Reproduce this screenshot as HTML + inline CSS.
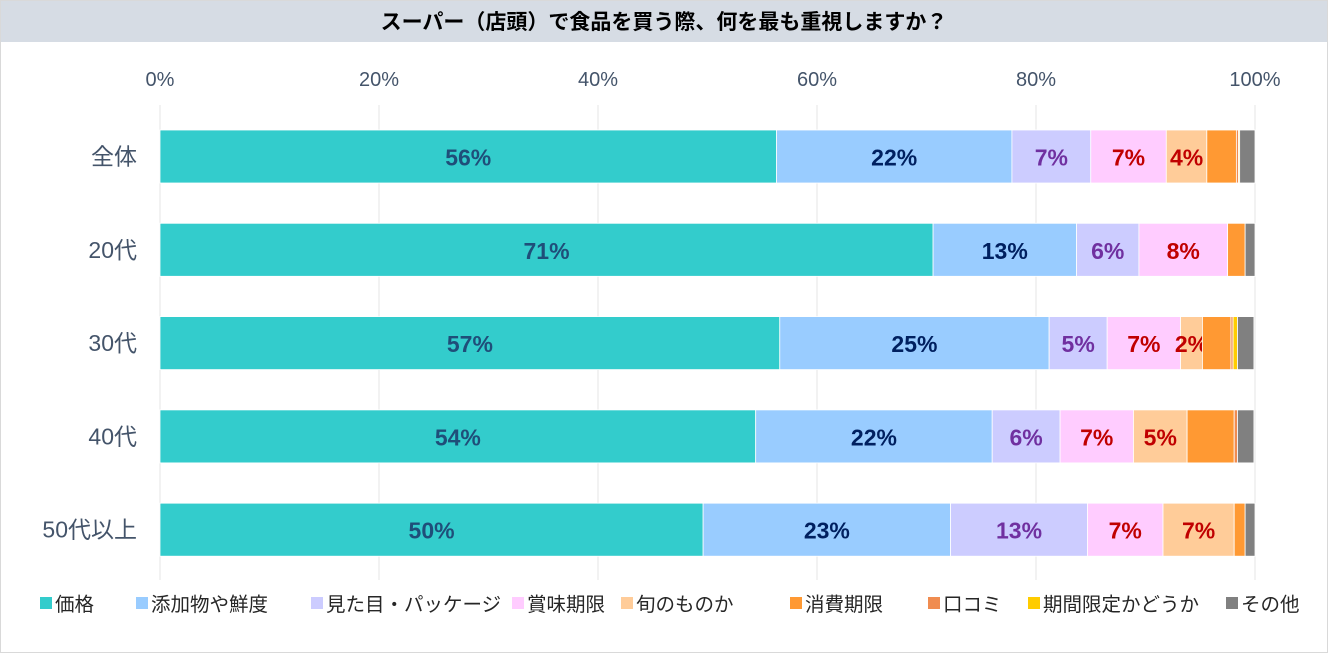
<!DOCTYPE html>
<html><head><meta charset="utf-8"><style>
body{margin:0;background:#fff;font-family:"Liberation Sans","Noto Sans CJK JP",sans-serif;}
#wrap{position:relative;width:1328px;height:667px;overflow:hidden;}
</style></head><body>
<div id="wrap">
<svg id="chart" width="1328" height="667"></svg>
</div>
<script>
const categories=["全体","20代","30代","40代","50代以上"];
const seriesNames=["価格","添加物や鮮度","見た目・パッケージ","賞味期限","旬のものか","消費期限","口コミ","期間限定かどうか","その他"];
const s0=[56.3,70.6,56.6,54.4,49.6];
const s1=[21.5,13.1,24.6,21.6,22.6];
const s2=[7.2,5.7,5.3,6.2,12.5];
const s3=[6.9,8.1,6.7,6.7,6.9];
const s4=[3.7,0,2.0,4.9,6.5];
const s5=[2.7,1.6,2.6,4.3,1.0];
const s6=[0.2,0,0.2,0.3,0];
const s7=[0.1,0,0.4,0,0];
const s8=[1.4,0.9,1.5,1.5,0.9];
const ticks=[0,20,40,60,80,100];
const series=[s0,s1,s2,s3,s4,s5,s6,s7,s8];
const colors=["#33cccc","#99ccff","#ccccff","#ffccff","#ffcc99","#ff9933","#f08c50","#ffcc00","#808080"];
const labelColors=["#1f4e79","#002060","#7030a0","#c00000","#c00000"];
const NS="http://www.w3.org/2000/svg";
const svg=document.getElementById('chart');
const x0=160,x1=1255;
const xs=v=>x0+(x1-x0)*v/100;
const barH=53;
const yc=i=>130+i*93.3;
function mk(t,a){const e=document.createElementNS(NS,t);for(const k in a)e.setAttribute(k,a[k]);svg.appendChild(e);return e;}
let e=mk('rect',{x:0.5,y:0.5,width:1327,height:652,fill:'#fff',stroke:'#d9d9d9'});

e=mk('rect',{x:1,y:1,width:1326,height:41,fill:'#d6dce4'});

e=mk('text',{x:664,y:29,'text-anchor':'middle','font-size':21,'font-weight':'bold',fill:'#000'});
e.textContent='スーパー（店頭）で食品を買う際、何を最も重視しますか？';

ticks.forEach(t=>{
 let g=mk('line',{x1:xs(t),x2:xs(t),y1:105,y2:580,stroke:'#e6e6e6','stroke-width':1});
 
 let l=mk('text',{x:xs(t),y:86,'text-anchor':'middle','font-size':20,fill:'#44546a'});
 l.textContent=t+'%';
 
});
categories.forEach((c,i)=>{
 const y=yc(i);
 let l=mk('text',{x:137,y:y+barH/2+8,'text-anchor':'end','font-size':23,fill:'#44546a'});
 l.textContent=c;
 
 let acc=0;
 series.forEach((s,j)=>{
  const v=s[i];if(v<=0)return;
  const r=mk('rect',{x:xs(acc),y:y,width:xs(acc+v)-xs(acc),height:barH,fill:colors[j],stroke:'#fff','stroke-width':0.8});
  
  if(j<5&&v>=1.5){
   const t=mk('text',{x:(xs(acc)+xs(acc+v))/2,y:y+barH/2+9,'text-anchor':'middle','font-size':23,'font-weight':'bold',fill:labelColors[j]});
   t.textContent=Math.round(v)+'%';
   
  }
  acc+=v;
 });
});
const legX=[40,136,311,512,621,790,928,1028,1226];
seriesNames.forEach((n,j)=>{
 let r=mk('rect',{x:legX[j],y:597,width:12,height:12,fill:colors[j]});
 
 let t=mk('text',{x:legX[j]+15,y:611,'font-size':19.5,fill:'#262626'});
 t.textContent=n;
 
});
</script>
</body></html>
